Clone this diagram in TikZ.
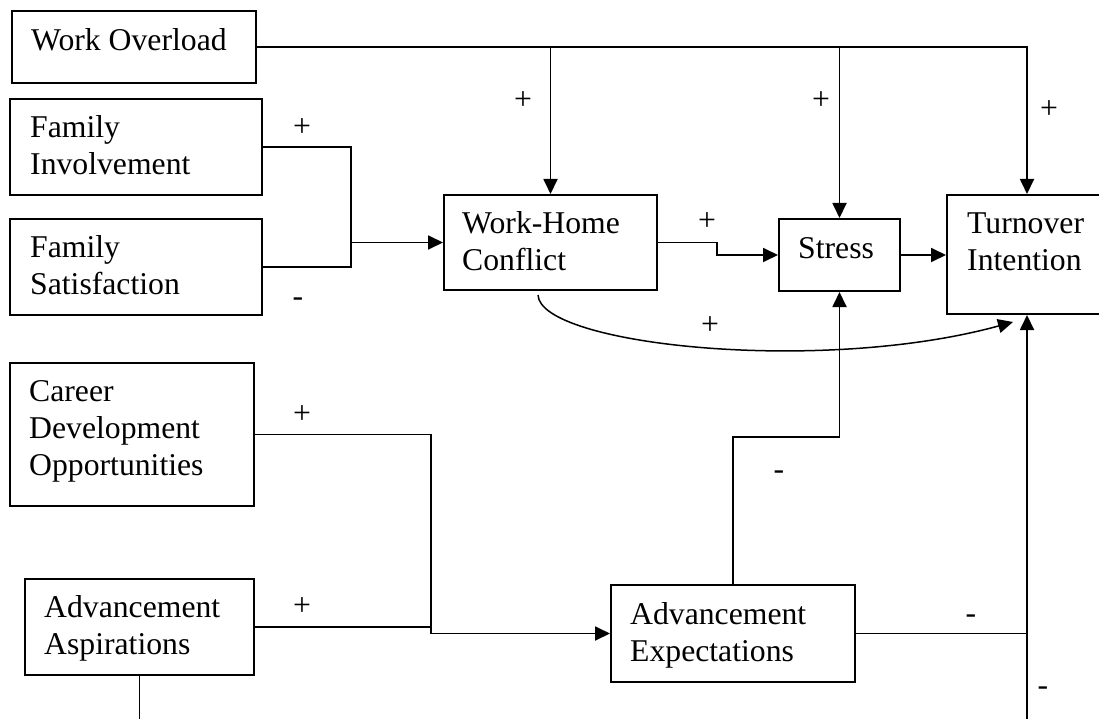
\documentclass[tikz,border=0pt]{standalone}
\usepackage{fontspec}
\setmainfont{Liberation Serif}
\usetikzlibrary{arrows.meta,calc}
\begin{document}
\begin{tikzpicture}[x=1pt,y=-1pt,
  box/.style={draw, line width=2pt, rectangle, inner sep=0pt, anchor=north west},
  txt/.style={inner sep=0pt, anchor=north west, align=left, font=\fontsize{31.7}{37}\selectfont},
  sign/.style={inner sep=0pt, anchor=base, font=\fontsize{31.7}{37}\selectfont},
  link/.style={line width=1.8pt},
  arr/.style={link, -{Triangle[length=15pt,width=14pt]}},
]
\fill[white] (0,0) rectangle (1099,719);
\useasboundingbox (0,0) rectangle (1099,719);

% boxes
\node[box, minimum width=244pt, minimum height=72pt]  (wo)     at (11,10)  {};
\node[box, minimum width=252pt, minimum height=96pt]  (fi)     at (9,98)   {};
\node[box, minimum width=252pt, minimum height=96pt]  (fs)     at (9,218)  {};
\node[box, minimum width=213pt, minimum height=95pt]  (whc)    at (443,194) {};
\node[box, minimum width=121pt, minimum height=72pt]  (stress) at (778,218) {};
\node[box, minimum width=160pt, minimum height=119pt] (to)     at (946,194) {};
\node[box, minimum width=244pt, minimum height=143pt] (career) at (9,362)  {};
\node[box, minimum width=229pt, minimum height=96pt]  (asp)    at (24,578) {};
\node[box, minimum width=244pt, minimum height=97pt]  (exp)    at (610,584) {};

% box texts
\node[txt] (wo-t)     at (31,28)   {Work Overload};
\node[txt] (fi-t)     at (30,115)  {Family\\Involvement};
\node[txt] (fs-t)     at (30,235)  {Family\\Satisfaction};
\node[txt] (whc-t)    at (462,211) {Work-Home\\Conflict};
\node[txt] (stress-t) at (798,237) {Stress};
\node[txt] (to-t)     at (967,213) {Turnover\\Intention};
\node[txt] (career-t) at (29,380)  {Career\\Development\\Opportunities};
\node[txt] (asp-t)    at (44,595)  {Advancement\\Aspirations};
\node[txt] (exp-t)    at (630,602) {Advancement\\Expectations};

% helper coordinates for bends and free ends
\coordinate (fj) at (351,0);
\coordinate (ws) at (717,0);
\coordinate (kj) at (431,0);
\coordinate (eb) at (0,437);
\coordinate (aspfoot) at ($(asp.south)+(0,60)$);
\coordinate (tofoot) at ($(to.south)+(0,420)$);
\coordinate (cstart) at (538,295);
\coordinate (cend) at (1013,322);

% work overload paths
\draw[arr] (wo.east) -| (to.north);
\draw[arr] (wo.east -| whc.north) -- (whc.north);
\draw[arr] (wo.east -| stress.north) -- (stress.north);

% family paths
\draw[link] (fi.east) -| (fj |- fs.east) -- (fs.east);
\draw[arr] (fj |- whc.west) -- (whc.west);

% conflict, stress, turnover
\draw[arr] (whc.east) -| (ws |- stress.west) -- (stress.west);
\draw[arr] (stress.east) -- (stress.east -| to.west);
\draw[arr, line width=1.5pt] (cstart) .. controls (540,345) and (820,375) .. (cend);

% career paths
\draw[arr] (career.east) -| (kj |- exp.west) -- (exp.west);
\draw[link] (asp.east) -- (asp.east -| kj);
\draw[link] (asp.south) -- (aspfoot);

% expectations paths
\draw[arr] (exp.north) -- (exp.north |- eb) -| (stress.south);
\draw[link] (exp.east) -- (exp.east -| to.south);
\draw[arr] (tofoot) -- (to.south);

% signs
\node[sign] (p1)  at (523,110) {+};
\node[sign] (p2)  at (821,110) {+};
\node[sign] (p3)  at (1049,119) {+};
\node[sign] (p4)  at (302,137) {+};
\node[sign] (p5)  at (707,231) {+};
\node[sign] (p6)  at (710,334) {+};
\node[sign] (p7)  at (302,423) {+};
\node[sign] (p8)  at (302,615) {+};
\node[sign] (m1)  at (298,306) {-};
\node[sign] (m2)  at (779,479) {-};
\node[sign] (m3)  at (971,623) {-};
\node[sign] (m4)  at (1043,695) {-};
\end{tikzpicture}
\end{document}
